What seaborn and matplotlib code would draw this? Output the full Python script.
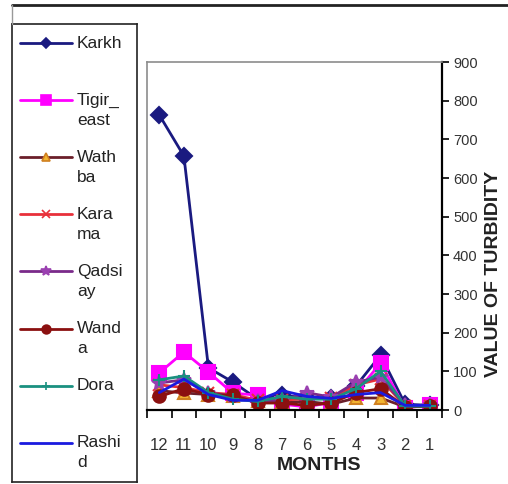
import numpy as np
import pandas as pd
import seaborn as sns
import matplotlib
matplotlib.use("Agg")
import matplotlib.pyplot as plt
from matplotlib.lines import Line2D

# Monthly turbidity readings per station (months run from 12 down to 1)
months = [12, 11, 10, 9, 8, 7, 6, 5, 4, 3, 2, 1]
karkh = [763, 657, 109, 72, 28, 38, 32, 30, 62, 142, 15, 12]
tigir_east = [96, 150, 98, 43, 39, 15, 8, 20, 45, 121, 5, 13]
wathba = [50, 44, 40, 35, 22, 20, 22, 15, 31, 31, 8, 10]
karama = [65, 58, 45, 40, 25, 25, 30, 30, 65, 80, 10, 10]
qadsiay = [70, 78, 45, 35, 22, 25, 45, 33, 72, 85, 12, 12]
wanda = [35, 55, 40, 38, 18, 18, 12, 18, 45, 55, 8, 10]
dora = [78, 88, 45, 28, 22, 35, 28, 28, 55, 100, 10, 10]
rashid = [45, 80, 40, 25, 25, 50, 35, 30, 40, 45, 12, 12]

stations = ["Karkh", "Tigir_east", "Wathba", "Karama", "Qadsiay", "Wanda", "Dora", "Rashid"]
legend_labels = ["Karkh", "Tigir_\neast", "Wath\nba", "Kara\nma", "Qadsi\nay", "Wand\na", "Dora", "Rashi\nd"]
series = [karkh, tigir_east, wathba, karama, qadsiay, wanda, dora, rashid]

# line colour, marker, marker face, marker edge, marker size
styles = {
    "Karkh":      ("#1a1a80", "D", "#1a1a80", "#1a1a80", 8),
    "Tigir_east": ("#ff00ff", "s", "#ff00ff", "#ff00ff", 10),
    "Wathba":     ("#6b1f2a", "^", "#f2b530", "#d08020", 9),
    "Karama":     ("#e8303a", "x", "#e8303a", "#e8303a", 9),
    "Qadsiay":    ("#7a2a8a", "*", "#9a40b0", "#9a40b0", 10),
    "Wanda":      ("#8b1010", "o", "#8b1010", "#8b1010", 9),
    "Dora":       ("#1a9080", "+", "#1a9080", "#1a9080", 9),
    "Rashid":     ("#1a1adf", "",  "#1a1adf", "#1a1adf", 0),
}

x_pos = np.arange(len(months))
df = pd.DataFrame({"pos": np.tile(x_pos, len(stations)),
                   "station": np.repeat(stations, len(months)),
                   "turbidity": np.concatenate(series)})

sns.set_theme(style="white")
plt.rcParams["font.family"] = ["Liberation Sans", "DejaVu Sans"]

W, H = 508, 484
fig = plt.figure(figsize=(W / 100, H / 100), dpi=100)

def fig_rect(x0, y0, x1, y1):
    return [x0 / W, 1 - y1 / H, (x1 - x0) / W, (y1 - y0) / H]

ax = fig.add_axes(fig_rect(147, 62, 442, 410))

for name in stations:
    col, mk, mfc, mec, ms = styles[name]
    sub = df[df.station == name]
    sns.lineplot(data=sub, x="pos", y="turbidity", ax=ax, color=col, linewidth=2,
                 marker=mk if mk else None, markersize=ms, markerfacecolor=mfc,
                 markeredgecolor=mec, markeredgewidth=1.5, legend=False)

ax.set_xlim(-0.5, len(months) - 0.5)
ax.set_ylim(0, 900)
ax.set_xlabel("")
ax.set_ylabel("")

# right-hand value axis
ax.yaxis.tick_right()
ax.set_yticks(np.arange(0, 901, 100))
ax.tick_params(axis="y", direction="out", length=5, width=1.2, color="black",
               labelsize=10.5, labelcolor="#333333", pad=3, right=True, left=False)

# category axis: ticks on boundaries, labels centred on months
ax.set_xticks(np.arange(-0.5, len(months)), labels=[""] * (len(months) + 1))
ax.set_xticks(x_pos, labels=[str(m) for m in months], minor=True)
ax.tick_params(axis="x", which="major", direction="out", length=6, width=1.2,
               color="black", bottom=True)
ax.tick_params(axis="x", which="minor", length=0, labelsize=12,
               labelcolor="#333333", pad=20)

for s in ["left", "top"]:
    ax.spines[s].set_color("#8c8c8c")
    ax.spines[s].set_linewidth(1.2)
for s in ["right", "bottom"]:
    ax.spines[s].set_color("black")
    ax.spines[s].set_linewidth(1.6)
ax.grid(False)

fig.text(319 / W, 1 - 466 / H, "MONTHS", ha="center", va="center",
         fontsize=14, fontweight="bold", color="#222222")
fig.text(494 / W, 1 - 274 / H, "VALUE OF TURBIDITY", ha="center", va="center",
         rotation=90, fontsize=14, fontweight="bold", color="#222222")

# outer chart frame
fig.add_artist(Line2D([12 / W, 1], [1 - 5 / H, 1 - 5 / H], color="#222222", lw=2))
fig.add_artist(Line2D([12 / W, 12 / W], [1 - 5 / H, 1 - 24 / H], color="#999999", lw=1))

# legend panel
lx0, ly0, lx1, ly1 = 12, 24, 137, 482
lax = fig.add_axes(fig_rect(lx0, ly0, lx1, ly1))
lax.set_xlim(0, lx1 - lx0)
lax.set_ylim(ly1 - ly0, 0)
lax.set_xticks([])
lax.set_yticks([])
lax.set_facecolor("white")
for s in lax.spines.values():
    s.set_color("#222222")
    s.set_linewidth(1.2)

first_row = 19
row_step = 57.1
for i, (name, lab) in enumerate(zip(stations, legend_labels)):
    col, mk, mfc, mec, ms = styles[name]
    y = first_row + i * row_step
    lax.plot([8, 60], [y, y], color=col, lw=2)
    if mk:
        lax.plot([34], [y], marker=mk, color=col, markersize=ms * 0.7,
                 markerfacecolor=mfc, markeredgecolor=mec, markeredgewidth=1.2)
    for j, line in enumerate(lab.split("\n")):
        lax.text(65, y + j * 20, line, ha="left", va="center",
                 fontsize=12.5, color="#222222")

fig.savefig("out.png", dpi=100)
